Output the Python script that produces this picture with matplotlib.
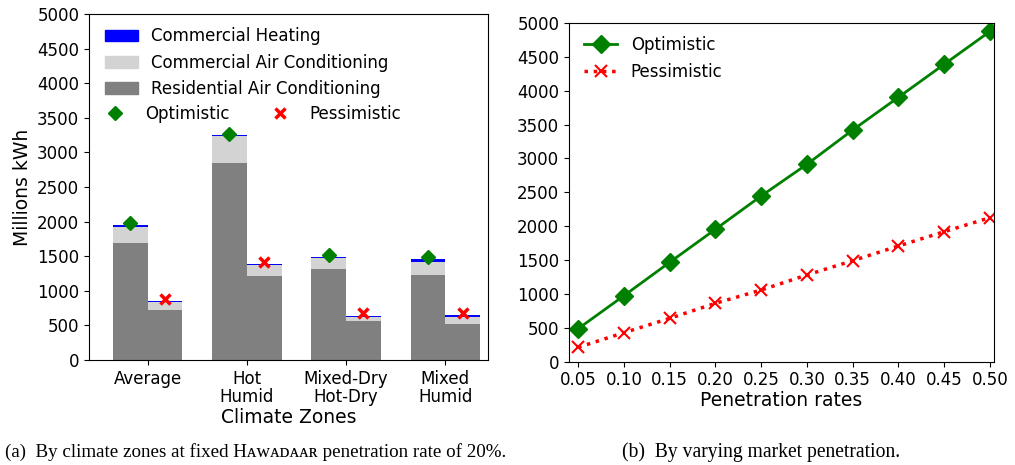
import matplotlib
matplotlib.use("Agg")
import matplotlib.pyplot as plt
import numpy as np
from matplotlib.patches import Patch
from matplotlib.lines import Line2D

# ---- data: left panel (20% penetration) ----
zones = ["Average", "Hot\nHumid", "Mixed-Dry\nHot-Dry", "Mixed\nHumid"]
res_ac_opt = [1695, 2851, 1315, 1228]
com_ac_opt = [231, 386, 159, 193]
com_heat_opt = [25, 10, 14, 39]
res_ac_pes = [723, 1214, 564, 520]
com_ac_pes = [111, 164, 62, 97]
com_heat_pes = [23, 9, 10, 33]
marker_opt = [1984, 3266, 1517, 1484]
marker_pes = [881, 1421, 675, 679]

# ---- data: right panel ----
pen_rates = [0.05, 0.10, 0.15, 0.20, 0.25, 0.30, 0.35, 0.40, 0.45, 0.50]
optimistic = [487, 974, 1467, 1955, 2446, 2914, 3420, 3903, 4390, 4875]
pessimistic = [212, 428, 640, 862, 1058, 1280, 1491, 1708, 1919, 2126]

W, H = 1015, 465
fig = plt.figure(figsize=(W / 100, H / 100), dpi=100)
fs = 12

# ---------- left ----------
ax1 = fig.add_axes([89 / W, 1 - 360 / H, (488 - 89) / W, (360 - 14) / H])
x = np.arange(len(zones))
w = 0.35
xo = x - w / 2
xp = x + w / 2
ax1.bar(xo, res_ac_opt, w, color="gray")
ax1.bar(xo, com_ac_opt, w, bottom=res_ac_opt, color="lightgray")
ax1.bar(xo, com_heat_opt, w, bottom=np.add(res_ac_opt, com_ac_opt), color="blue")
ax1.bar(xp, res_ac_pes, w, color="gray")
ax1.bar(xp, com_ac_pes, w, bottom=res_ac_pes, color="lightgray")
ax1.bar(xp, com_heat_pes, w, bottom=np.add(res_ac_pes, com_ac_pes), color="blue")
ax1.plot(xo, marker_opt, linestyle="none", marker="D", color="green", markersize=7)
ax1.plot(xp, marker_pes, linestyle="none", marker="x", color="red", markersize=7, mew=2.5)
ax1.set_xlim(-0.59, 3.43)
ax1.set_ylim(0, 5000)
ax1.set_yticks(np.arange(0, 5001, 500))
ax1.set_xticks(x)
ax1.set_xticklabels(zones, fontsize=fs, linespacing=1.05)
ax1.tick_params(axis="y", labelsize=fs)
ax1.set_ylabel("Millions kWh", fontsize=13.5)
ax1.set_xlabel("Climate Zones", fontsize=13.5, labelpad=1)

h_bars = [Patch(color="blue"), Patch(color="lightgray"), Patch(color="gray")]
l_bars = ["Commercial Heating", "Commercial Air Conditioning", "Residential Air Conditioning"]
leg1 = ax1.legend(h_bars, l_bars, loc="upper left", frameon=False, fontsize=fs,
                  bbox_to_anchor=(0.01, 0.995), borderaxespad=0.3)
ax1.add_artist(leg1)
h_m = [Line2D([], [], linestyle="none", marker="D", color="green", markersize=7),
       Line2D([], [], linestyle="none", marker="x", color="red", markersize=7, mew=2.5)]
ax1.legend(h_m, ["Optimistic", "Pessimistic"], ncol=2, loc="upper left", frameon=False,
           fontsize=fs, bbox_to_anchor=(-0.005, 0.77), borderaxespad=0.3)

# ---------- right ----------
ax2 = fig.add_axes([569 / W, 1 - 361.7 / H, (994 - 569) / W, (361.7 - 23) / H])
ax2.plot(pen_rates, optimistic, color="green", linestyle="-", marker="D", markersize=9,
         linewidth=2, label="Optimistic")
ax2.plot(pen_rates, pessimistic, color="red", linestyle=":", marker="x", markersize=9,
         linewidth=2.5, mew=1.5, label="Pessimistic")
ax2.set_xlim(0.04, 0.5045)
ax2.set_ylim(0, 5000)
ax2.set_yticks(np.arange(0, 5001, 500))
ax2.set_xticks(pen_rates)
ax2.set_xticklabels([f"{v:.2f}" for v in pen_rates])
ax2.tick_params(labelsize=fs)
ax2.set_xlabel("Penetration rates", fontsize=13.5, labelpad=1)
ax2.legend(loc="upper left", frameon=False, fontsize=fs, bbox_to_anchor=(0, 1.005))

# ---------- captions ----------
serif = ["Liberation Serif", "DejaVu Serif"]
fig.text(5 / W, 1 - 452 / H, "(a)  By climate zones at fixed H\u1d00\u1d21\u1d00\u1d05\u1d00\u1d00\u0280 penetration rate of 20%.",
         family=serif, fontsize=13.7, va="center", ha="left")
fig.text(622 / W, 1 - 452 / H, "(b)  By varying market penetration.",
         family=serif, fontsize=14.1, va="center", ha="left")

fig.savefig("out.png", dpi=100)
